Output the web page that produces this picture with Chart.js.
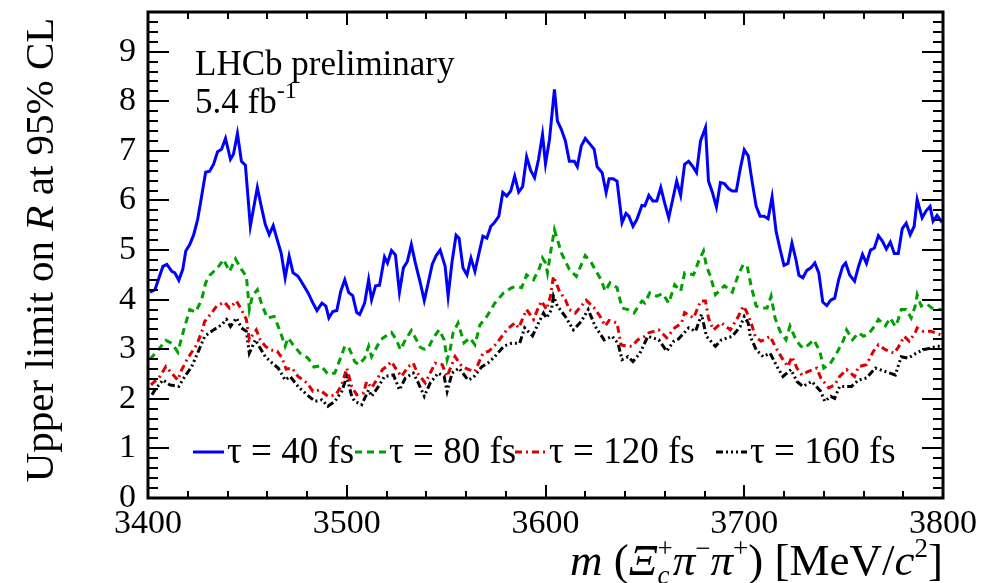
<!DOCTYPE html>
<html>
<head>
<meta charset="utf-8">
<script src="https://cdn.jsdelivr.net/npm/chart.js@4.4.1/dist/chart.umd.min.js"></script>
<style>
    html, body { margin: 0; padding: 0; background: #fff; }
    #wrap { width: 988px; height: 583px; }
</style>
</head>
<body>
<div id="wrap"><canvas id="limitChart" width="988" height="583"></canvas></div>
<script>
// values
const mass40 = [3401, 3403.5, 3407.5, 3409.5, 3412, 3413.5, 3415.5, 3417.5, 3419, 3421, 3423, 3425, 3427, 3429, 3431, 3433, 3435, 3437, 3439, 3441.5, 3443, 3445, 3447, 3449, 3451.5, 3455, 3457, 3459, 3461, 3463, 3465, 3467, 3469, 3471, 3473, 3475.5, 3477.5, 3480.5, 3483, 3485, 3487.5, 3489.5, 3491, 3493, 3495, 3497, 3499, 3501, 3503, 3505, 3506.5, 3509, 3511, 3512.5, 3514.5, 3516.5, 3519, 3520.5, 3522.5, 3524.5, 3526.5, 3528.5, 3530.5, 3532.5, 3534.5, 3537, 3539, 3541, 3543, 3545, 3547, 3549.5, 3551, 3553, 3555, 3556.5, 3558.5, 3560.5, 3562.5, 3564.5, 3566.5, 3568.5, 3570.5, 3572.5, 3574, 3576.5, 3578.5, 3580.5, 3582.5, 3584.5, 3586.5, 3588.5, 3590.5, 3592.5, 3594.5, 3596.5, 3598.5, 3600, 3602, 3604.5, 3606, 3608, 3610, 3612, 3614.5, 3616, 3618, 3620, 3622.5, 3624.5, 3626, 3628.5, 3630.5, 3632, 3634, 3636, 3638.5, 3640.5, 3642, 3644, 3646, 3648.5, 3650, 3652, 3654, 3656, 3658, 3660, 3662, 3664, 3666, 3668, 3670, 3672, 3674, 3676, 3678, 3680.5, 3682, 3684, 3686, 3688, 3690, 3692, 3694, 3696, 3698, 3700, 3702, 3704, 3706, 3708, 3710, 3712, 3714, 3716, 3718, 3720, 3722, 3724, 3726, 3727.5, 3729.5, 3731.5, 3733.5, 3735.5, 3737.5, 3739.5, 3741.5, 3743.5, 3745.5, 3747.5, 3749.5, 3751, 3753, 3755.5, 3757.5, 3759.5, 3761.5, 3763.5, 3765.5, 3767.5, 3769.5, 3771.5, 3773.5, 3775.5, 3777.5, 3779.5, 3781.5, 3783.5, 3785.5, 3787, 3789.5, 3791.5, 3793.5, 3795, 3797, 3799.5];
const limit40 = [4.15, 4.2, 4.67, 4.71, 4.57, 4.54, 4.39, 4.61, 4.98, 5.11, 5.31, 5.62, 6.09, 6.57, 6.59, 6.73, 6.98, 7.03, 7.25, 6.83, 6.93, 7.35, 6.79, 6.71, 5.48, 6.26, 5.88, 5.52, 5.31, 5.49, 5.21, 4.94, 4.44, 4.88, 4.54, 4.47, 4.34, 4.14, 3.93, 3.78, 3.93, 3.87, 3.63, 3.76, 3.78, 4.17, 4.4, 4.14, 4.08, 3.74, 3.7, 3.93, 4.4, 4.0, 4.28, 4.29, 4.86, 4.74, 4.99, 4.9, 4.15, 4.64, 4.77, 5.11, 4.74, 4.34, 3.98, 4.34, 4.71, 4.89, 5.0, 4.67, 4.07, 4.77, 5.3, 5.24, 4.64, 4.5, 4.84, 4.57, 4.93, 5.28, 5.24, 5.48, 5.54, 5.68, 6.16, 6.09, 6.19, 6.49, 6.17, 6.28, 6.88, 6.61, 6.46, 6.83, 7.33, 6.74, 7.23, 8.24, 7.6, 7.43, 7.2, 6.79, 6.79, 6.68, 7.1, 7.25, 7.13, 7.03, 6.68, 6.56, 6.16, 6.44, 6.44, 6.39, 5.55, 5.74, 5.68, 5.48, 5.62, 5.9, 5.89, 6.1, 5.99, 5.99, 6.26, 5.94, 5.65, 6.02, 6.39, 6.1, 6.73, 6.79, 6.69, 6.56, 7.2, 7.47, 6.39, 6.16, 5.87, 6.36, 6.34, 6.24, 6.19, 6.19, 6.64, 7.02, 6.9, 6.37, 5.88, 5.68, 5.68, 5.63, 6.07, 5.38, 5.02, 4.69, 4.73, 5.14, 4.81, 4.49, 4.44, 4.59, 4.64, 4.74, 4.54, 3.95, 3.88, 3.99, 4.03, 4.4, 4.67, 4.74, 4.5, 4.37, 4.67, 4.91, 4.73, 5.0, 5.04, 5.29, 5.18, 5.02, 5.16, 4.93, 4.93, 5.43, 5.54, 5.31, 5.48, 6.02, 5.65, 5.79, 5.88, 5.58, 5.7, 5.56];

const mass80 = [3401, 3405, 3409, 3412, 3415, 3418, 3421, 3424, 3427, 3429, 3431, 3435, 3438, 3441, 3444, 3447, 3449.5, 3451, 3452.5, 3455, 3457, 3460, 3463.5, 3466.5, 3469, 3470.5, 3473, 3476.5, 3480.5, 3483.5, 3487, 3490.5, 3494, 3497.5, 3499, 3501, 3504, 3506, 3509, 3511, 3512.5, 3514.5, 3517, 3519.5, 3522.5, 3525, 3527, 3529.5, 3532.5, 3534.5, 3537, 3539, 3541, 3543.5, 3546.5, 3549, 3550.5, 3552, 3553.5, 3556, 3559, 3562, 3564.5, 3567, 3570.5, 3574.5, 3579, 3583, 3585.5, 3588, 3590.5, 3594, 3597, 3598.5, 3600, 3601, 3602.5, 3604.5, 3606, 3608, 3612, 3615.5, 3620, 3623, 3625.5, 3628, 3630, 3632.5, 3636, 3638.5, 3641.5, 3644.5, 3648.5, 3650, 3652.5, 3656, 3659, 3662, 3665, 3668, 3670, 3674.5, 3677, 3679.5, 3681, 3683, 3685.5, 3690, 3694, 3697, 3699.5, 3701.5, 3703.5, 3706, 3708.5, 3711.5, 3713.5, 3715.5, 3718, 3721, 3723, 3726, 3728.5, 3730.5, 3735, 3738, 3740, 3743, 3746.5, 3750, 3751.5, 3754.5, 3757.5, 3760, 3762.5, 3765.5, 3767.5, 3771, 3773.5, 3776, 3777.5, 3779, 3781.5, 3784, 3786, 3787, 3789, 3792, 3794.5, 3799];
const limit80 = [2.8, 2.98, 3.18, 3.12, 2.94, 3.39, 3.8, 3.75, 4.0, 4.34, 4.49, 4.64, 4.81, 4.57, 4.82, 4.61, 4.47, 3.8, 4.07, 4.2, 3.93, 3.63, 3.66, 3.36, 3.06, 3.23, 3.09, 2.92, 2.82, 2.64, 2.67, 2.5, 2.52, 2.89, 3.06, 3.04, 2.75, 2.69, 2.82, 3.06, 2.85, 3.0, 3.19, 3.26, 3.34, 3.19, 2.99, 3.19, 3.38, 3.23, 3.04, 3.0, 3.02, 3.23, 3.39, 3.19, 2.79, 2.99, 3.33, 3.53, 3.13, 3.23, 3.09, 3.49, 3.66, 3.93, 4.14, 4.24, 4.27, 4.24, 4.5, 4.4, 4.64, 4.84, 4.74, 4.54, 4.94, 5.41, 5.21, 4.94, 4.61, 4.47, 4.89, 4.75, 4.57, 4.4, 4.17, 4.34, 4.24, 3.83, 3.8, 3.73, 3.97, 3.93, 4.14, 4.07, 4.12, 3.93, 4.3, 4.17, 4.54, 4.5, 4.77, 4.98, 4.67, 4.47, 4.1, 4.28, 4.15, 4.5, 4.71, 4.67, 4.27, 3.87, 3.83, 3.83, 4.07, 3.63, 3.36, 3.19, 3.47, 3.19, 3.06, 3.02, 3.19, 2.96, 2.62, 2.69, 2.92, 3.19, 3.39, 3.19, 3.33, 3.26, 3.31, 3.46, 3.6, 3.47, 3.63, 3.46, 3.6, 3.8, 3.8, 3.63, 3.87, 4.1, 3.87, 3.91, 3.83, 3.8];

const mass120 = [3401.5, 3406, 3409, 3415, 3417, 3420, 3424.5, 3427, 3428.5, 3432, 3434.5, 3438.5, 3441, 3444.5, 3447, 3449.5, 3451, 3454.5, 3456.5, 3459, 3461.5, 3465, 3467.5, 3469.5, 3472.5, 3475.5, 3480, 3483, 3486.5, 3490.5, 3494.5, 3497.5, 3500, 3502.5, 3505, 3508.5, 3510, 3512.5, 3515, 3518, 3520, 3522.5, 3525, 3527.5, 3531, 3533.5, 3535.5, 3539.5, 3542, 3544.5, 3548, 3550.5, 3554.5, 3558, 3561.5, 3564.5, 3568.5, 3571.5, 3575.5, 3580.5, 3584.5, 3586.5, 3590.5, 3594, 3596, 3598, 3600.5, 3602.5, 3604, 3607, 3610, 3612, 3615, 3618, 3620.5, 3624.5, 3627.5, 3630, 3632, 3636, 3638, 3641, 3643.5, 3646.5, 3650, 3652, 3657, 3661, 3665, 3668.5, 3670, 3674.5, 3678, 3680.5, 3682, 3684.5, 3688.5, 3693, 3697, 3699.5, 3701, 3703.5, 3705.5, 3708.5, 3713, 3715.5, 3719, 3722, 3724, 3726.5, 3729, 3732, 3736.5, 3738.5, 3742.5, 3745.5, 3748, 3751.5, 3755.5, 3757.5, 3761.5, 3765, 3767.5, 3771, 3775.5, 3777.5, 3780.5, 3783, 3786, 3787, 3790, 3794, 3799];
const limit120 = [2.28, 2.45, 2.65, 2.38, 2.59, 2.82, 3.09, 3.34, 3.56, 3.73, 3.87, 3.95, 3.83, 3.97, 3.8, 3.6, 3.19, 3.39, 3.19, 3.06, 2.99, 2.96, 2.82, 2.6, 2.62, 2.45, 2.32, 2.15, 2.18, 2.05, 2.08, 2.28, 2.62, 2.25, 2.08, 2.12, 2.35, 2.22, 2.38, 2.59, 2.65, 2.75, 2.59, 2.45, 2.65, 2.72, 2.52, 2.32, 2.52, 2.72, 2.69, 2.45, 2.85, 2.65, 2.59, 2.55, 2.92, 2.96, 3.12, 3.39, 3.53, 3.43, 3.8, 3.6, 3.8, 3.97, 3.8, 4.07, 4.47, 4.17, 4.0, 3.8, 3.73, 3.87, 3.99, 3.83, 3.66, 3.47, 3.58, 3.53, 3.09, 3.06, 3.06, 3.19, 3.26, 3.33, 3.39, 3.23, 3.43, 3.53, 3.74, 3.63, 3.97, 3.97, 3.63, 3.39, 3.53, 3.39, 3.66, 3.87, 3.77, 3.53, 3.26, 3.16, 3.26, 3.06, 2.82, 2.65, 2.85, 2.62, 2.48, 2.55, 2.62, 2.42, 2.22, 2.28, 2.45, 2.59, 2.45, 2.65, 2.69, 2.96, 3.09, 2.99, 2.92, 3.04, 3.26, 3.16, 3.33, 3.43, 3.36, 3.36, 3.29];

const mass160 = [3402, 3403.5, 3407.5, 3411, 3415.5, 3418.5, 3422, 3426, 3428.5, 3433, 3437, 3439.5, 3441.5, 3444.5, 3447, 3449.5, 3451, 3454, 3456.5, 3459, 3462.5, 3465.5, 3469, 3471.5, 3475.5, 3480, 3484, 3487.5, 3490.5, 3494, 3497.5, 3500, 3502.5, 3504, 3507.5, 3511, 3512.5, 3516, 3519, 3523.5, 3526.5, 3529.5, 3533.5, 3536, 3539, 3542, 3546, 3549, 3550.5, 3553, 3556.5, 3561, 3563.5, 3568, 3571, 3574.5, 3579, 3583, 3587, 3589.5, 3593.5, 3596.5, 3599, 3600.5, 3603, 3604, 3606, 3610, 3614, 3618, 3621.5, 3625, 3629.5, 3633.5, 3636.5, 3638.5, 3641.5, 3644, 3647.5, 3651.5, 3657, 3661, 3664.5, 3667, 3672, 3675.5, 3678.5, 3681, 3685.5, 3688.5, 3694, 3698, 3700, 3702, 3703, 3706, 3709.5, 3713, 3716.5, 3719.5, 3723.5, 3726.5, 3729.5, 3734, 3738.5, 3740.5, 3743.5, 3745.5, 3748, 3754, 3757.5, 3761.5, 3766, 3771, 3776, 3779, 3782.5, 3786.5, 3790, 3793.5, 3797, 3799.5];
const limit160 = [2.08, 2.18, 2.38, 2.28, 2.25, 2.45, 2.65, 3.02, 3.26, 3.39, 3.49, 3.6, 3.46, 3.63, 3.43, 3.36, 2.92, 3.19, 3.02, 2.85, 2.72, 2.62, 2.38, 2.45, 2.25, 2.08, 1.95, 1.98, 1.85, 1.95, 2.15, 2.45, 2.05, 1.95, 1.88, 2.18, 2.05, 2.25, 2.45, 2.48, 2.18, 2.42, 2.52, 2.32, 2.05, 2.32, 2.52, 2.45, 2.15, 2.52, 2.62, 2.38, 2.42, 2.65, 2.72, 2.85, 3.06, 3.12, 3.12, 3.43, 3.27, 3.53, 3.73, 3.63, 3.8, 4.07, 3.87, 3.66, 3.39, 3.56, 3.8, 3.46, 3.19, 3.26, 3.12, 2.79, 2.85, 2.75, 2.92, 3.26, 3.19, 2.96, 3.16, 3.21, 3.43, 3.36, 3.7, 3.26, 3.06, 3.19, 3.26, 3.46, 3.66, 3.53, 3.26, 2.99, 2.85, 2.92, 2.65, 2.45, 2.59, 2.35, 2.25, 2.35, 2.15, 1.95, 2.05, 2.01, 2.25, 2.25, 2.38, 2.42, 2.62, 2.55, 2.48, 2.85, 2.82, 2.92, 2.99, 3.02, 3.06, 3.06];

const seriesLabels = ['τ = 40 fs', 'τ = 80 fs', 'τ = 120 fs', 'τ = 160 fs'];
const xTickValues = [3400, 3500, 3600, 3700, 3800];
const yTickValues = [0, 1, 2, 3, 4, 5, 6, 7, 8, 9];

const SERIF = '"Liberation Serif", "DejaVu Serif", serif';

function toPoints(xs, ys) {
    return xs.map((x, i) => ({ x: x, y: ys[i] }));
}

// lay out a run of text pieces (italic, sub/superscripts, stacked indices)
function layoutRich(ctx, parts) {
    let x = 0, prevStart = 0, prevW = 0;
    const items = [];
    parts.forEach(p => {
        ctx.font = (p.it ? 'italic ' : '') + p.size + 'px ' + SERIF;
        const w = ctx.measureText(p.t).width + (p.gap || 0);
        if (p.stack) {
            items.push(Object.assign({}, p, { x: prevStart }));
            prevW = Math.max(prevW, w);
            x = prevStart + prevW;
        } else {
            items.push(Object.assign({}, p, { x: x }));
            prevStart = x;
            prevW = w;
            x += w;
        }
    });
    return { items: items, width: x };
}

function drawRich(ctx, parts, x, y, align) {
    const lay = layoutRich(ctx, parts);
    const x0 = align === 'right' ? x - lay.width : (align === 'center' ? x - lay.width / 2 : x);
    ctx.textBaseline = 'alphabetic';
    ctx.textAlign = 'left';
    lay.items.forEach(p => {
        ctx.font = (p.it ? 'italic ' : '') + p.size + 'px ' + SERIF;
        ctx.fillText(p.t, x0 + p.x, y + (p.dy || 0));
    });
}

const framePlugin = {
    id: 'rootFrame',
    afterDatasetsDraw(chart) {
        const ctx = chart.ctx;
        const area = chart.chartArea;
        const xs = chart.scales.x;
        const ys = chart.scales.y;
        ctx.save();
        ctx.strokeStyle = '#000';
        ctx.lineWidth = 2;
        ctx.beginPath();
        // x ticks, bottom and top
        for (let v = 3400; v <= 3800; v += 20) {
            const px = Math.round(xs.getPixelForValue(v));
            const len = v % 100 === 0 ? 13 : 7;
            ctx.moveTo(px, area.bottom); ctx.lineTo(px, area.bottom - len);
            ctx.moveTo(px, area.top); ctx.lineTo(px, area.top + len);
        }
        // y ticks, left and right
        for (let i = 0; i <= 49; i++) {
            const v = i * 0.2;
            const py = Math.round(ys.getPixelForValue(v));
            const len = i % 5 === 0 ? 21 : 10;
            ctx.moveTo(area.left, py); ctx.lineTo(area.left + len, py);
            ctx.moveTo(area.right, py); ctx.lineTo(area.right - len, py);
        }
        ctx.stroke();
        ctx.lineWidth = 3;
        ctx.strokeRect(area.left, area.top, area.right - area.left, area.bottom - area.top);
        ctx.restore();
    },
    afterDraw(chart) {
        const ctx = chart.ctx;
        const area = chart.chartArea;
        ctx.save();
        ctx.fillStyle = '#000';

        // annotation
        drawRich(ctx, [{ t: 'LHCb preliminary', size: 35 }], 195, 75, 'left');
        drawRich(ctx, [{ t: '5.4 fb', size: 35 }, { t: '-1', size: 24, dy: -15 }], 195, 113, 'left');

        // legend row
        const legendX = [193, 355, 515, 716];
        const legendY = 452;
        chart.data.datasets.forEach((ds, i) => {
            const lx = legendX[i];
            ctx.save();
            ctx.strokeStyle = ds.borderColor;
            ctx.lineWidth = ds.borderWidth;
            ctx.setLineDash(ds.borderDash || []);
            ctx.beginPath();
            ctx.moveTo(lx, legendY);
            ctx.lineTo(lx + 31, legendY);
            ctx.stroke();
            ctx.restore();
            drawRich(ctx, [{ t: seriesLabels[i], size: 37 }], lx + 34, legendY + 11, 'left');
        });

        // x axis title
        const S = 45, s = 27;
        drawRich(ctx, [
            { t: 'm', size: S, it: true },
            { t: ' (', size: S },
            { t: 'Ξ', size: S, it: true },
            { t: 'c', size: s, it: true, dy: 9 },
            { t: '+', size: s, dy: -18, stack: true },
            { t: 'π', size: S, it: true },
            { t: '−', size: s, dy: -18 },
            { t: 'π', size: S, it: true },
            { t: '+', size: s, dy: -18 },
            { t: ') [MeV/', size: S },
            { t: 'c', size: S, it: true },
            { t: '2', size: s, dy: -18 },
            { t: ']', size: S }
        ], area.right, 575, 'right');

        // y axis title, rotated
        ctx.translate(53, 250);
        ctx.rotate(-Math.PI / 2);
        drawRich(ctx, [
            { t: 'Upper limit on ', size: 41 },
            { t: 'R', size: 41, it: true },
            { t: ' at 95% CL', size: 41 }
        ], 0, 0, 'center');
        ctx.restore();
    }
};

new Chart(document.getElementById('limitChart'), {
    type: 'line',
    data: {
        datasets: [
            { label: seriesLabels[0], data: toPoints(mass40, limit40), borderColor: '#0000ff', borderWidth: 3 },
            { label: seriesLabels[1], data: toPoints(mass80, limit80), borderColor: '#00a000', borderWidth: 3, borderDash: [7, 5] },
            { label: seriesLabels[2], data: toPoints(mass120, limit120), borderColor: '#dd0000', borderWidth: 3, borderDash: [7, 4, 2, 4] },
            { label: seriesLabels[3], data: toPoints(mass160, limit160), borderColor: '#000000', borderWidth: 3, borderDash: [7, 3, 2, 3, 2, 3, 2, 3] }
        ]
    },
    options: {
        responsive: false,
        animation: false,
        devicePixelRatio: 1,
        layout: { padding: { left: 0, right: 45, top: 12, bottom: 0 } },
        elements: { point: { radius: 0 }, line: { tension: 0, fill: false } },
        plugins: { legend: { display: false }, tooltip: { enabled: false } },
        scales: {
            x: {
                type: 'linear',
                min: 3400,
                max: 3800,
                grid: { display: false, drawTicks: false },
                border: { display: false },
                afterBuildTicks: scale => { scale.ticks = xTickValues.map(v => ({ value: v })); },
                afterFit: scale => {
                    scale.height = 85;
                    scale.paddingLeft = 0;
                    scale.paddingRight = 0;
                },
                ticks: {
                    color: '#000',
                    padding: 6,
                    maxRotation: 0,
                    font: { family: SERIF, size: 34 },
                    callback: v => String(v)
                }
            },
            y: {
                type: 'linear',
                min: 0,
                max: 9.8,
                grid: { display: false, drawTicks: false },
                border: { display: false },
                afterBuildTicks: scale => { scale.ticks = yTickValues.map(v => ({ value: v })); },
                afterFit: scale => {
                    scale.width = 148;
                    scale.paddingTop = 0;
                    scale.paddingBottom = 0;
                },
                ticks: {
                    color: '#000',
                    padding: 12,
                    font: { family: SERIF, size: 34 },
                    callback: v => String(v)
                }
            }
        }
    },
    plugins: [framePlugin]
});
</script>
</body>
</html>
